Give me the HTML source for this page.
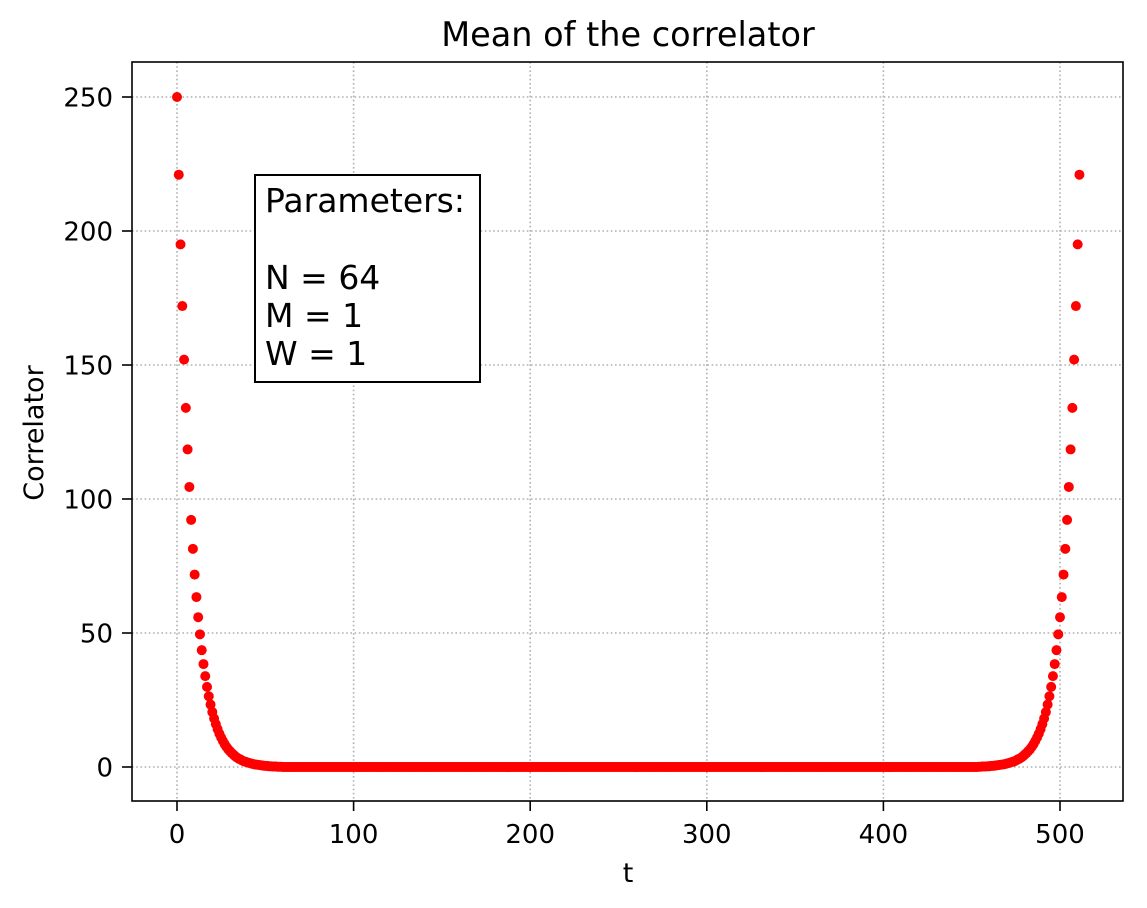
<!DOCTYPE html>
<html><head><meta charset="utf-8"><style>
html,body{margin:0;padding:0;background:#fff;}
svg{display:block;font-family:"DejaVu Sans","Liberation Sans",sans-serif;}
</style></head><body>
<svg id="chart" width="1147" height="908" viewBox="0 0 1147 908">
<rect width="1147" height="908" fill="#fff"/>
<g id="grid"></g>
<g id="dots"></g>
<rect x="132" y="62" width="991" height="739" fill="none" stroke="#000" stroke-width="1.6"/>
<g id="ticks"></g>
<text x="628" y="46" text-anchor="middle" font-size="33.5">Mean of the correlator</text>
<text x="628" y="882" text-anchor="middle" font-size="27">t</text>
<text transform="translate(43,433) rotate(-90)" text-anchor="middle" font-size="27">Correlator</text>
<g>
<rect x="255" y="175" width="225" height="207" fill="#fff" stroke="#000" stroke-width="2"/>
<text x="265" y="212" font-size="33">Parameters:</text>
<text x="265" y="289" font-size="33">N = 64</text>
<text x="265" y="327" font-size="33">M = 1</text>
<text x="265" y="365" font-size="33">W = 1</text>
</g>
</svg>
<script>
const xTicks=[0,100,200,300,400,500];
const yTicks=[0,50,100,150,200,250];
const head=[250,221,195,172,152,134,118.5,104.5,92.2,81.4,71.8,63.4,55.9,49.5,43.6,38.4,33.9,29.9,26.4,23.3,20.5,18.1,16,14.1,12.4,11,9.7,8.5,7.5,6.6,5.9,5.2,4.6,4.0,3.5,3.1,2.8,2.4,2.1,1.9,1.7,1.5,1.3,1.1,1.0,0.9,0.8,0.7,0.6,0.5,0.4,0.4,0.3,0.3,0.2,0.2,0.2,0.1,0.1,0.1];
const middle=new Array(394).fill(0);
const tail=[0.1,0.1,0.2,0.2,0.2,0.3,0.3,0.4,0.4,0.5,0.6,0.7,0.8,0.9,1.0,1.1,1.3,1.5,1.7,1.9,2.1,2.4,2.8,3.1,3.5,4.0,4.6,5.2,5.9,6.6,7.5,8.5,9.7,11,12.4,14.1,16,18.1,20.5,23.3,26.4,29.9,33.9,38.4,43.6,49.5,55.9,63.4,71.8,81.4,92.2,104.5,118.5,134,152,172,195,221];
const values=head.concat(middle,tail);
const NS="http://www.w3.org/2000/svg";
const xs=v=>177+v*1.766;
const ys=v=>767-v*2.68;
const grid=document.getElementById('grid'),ticks=document.getElementById('ticks'),dots=document.getElementById('dots');
function mk(tag,attrs,parent){const e=document.createElementNS(NS,tag);for(const k in attrs)e.setAttribute(k,attrs[k]);parent.appendChild(e);return e;}
xTicks.forEach(t=>{
  const x=xs(t);
  const g=mk('line',{x1:x,x2:x,y1:62,y2:801,stroke:'#b0b0b0','stroke-width':1.6,'stroke-dasharray':'1.6,2.6'},grid);
  
  
  const l=mk('line',{x1:x,x2:x,y1:801,y2:811,stroke:'#000','stroke-width':1.6},ticks);
  
  
  const tx=mk('text',{x:x,y:843,'text-anchor':'middle','font-size':26},ticks);
  tx.textContent=t;
  
  
});
yTicks.forEach(t=>{
  const y=ys(t);
  const g=mk('line',{x1:132,x2:1123,y1:y,y2:y,stroke:'#b0b0b0','stroke-width':1.6,'stroke-dasharray':'1.6,2.6'},grid);
  
  
  const l=mk('line',{x1:122,x2:132,y1:y,y2:y,stroke:'#000','stroke-width':1.6},ticks);
  
  
  const tx=mk('text',{x:113,y:y+9.5,'text-anchor':'end','font-size':26},ticks);
  tx.textContent=t;
  
  
});
values.forEach((v,i)=>{
  const c=mk('circle',{cx:xs(i),cy:ys(v),r:5,fill:'#ff0000'},dots);
  
  
});
</script>
</body></html>
